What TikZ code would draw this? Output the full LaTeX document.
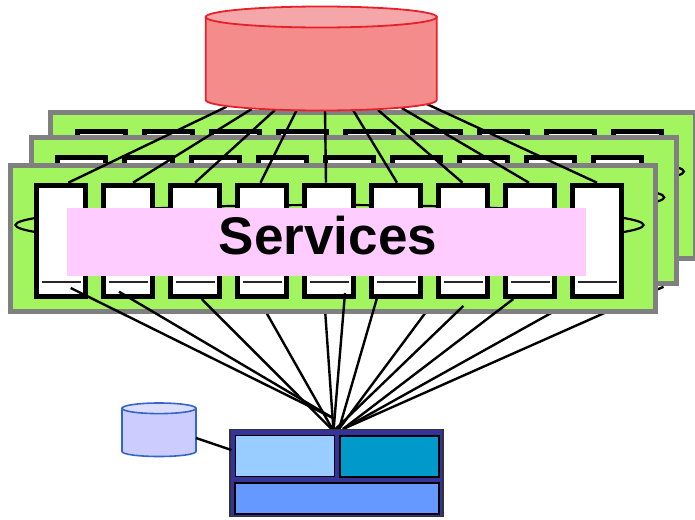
\documentclass[tikz,border=0pt]{standalone}
\usepackage{fontspec}
\setmainfont{Liberation Sans}
\definecolor{panelgreen}{HTML}{A2F55F}
\definecolor{panelgray}{HTML}{808080}
\definecolor{pinkband}{HTML}{FFCCFF}
\definecolor{dbred}{HTML}{F48C8C}
\definecolor{dbredtop}{HTML}{F5A6A9}
\definecolor{dbredline}{HTML}{E8202A}
\definecolor{dbblue}{HTML}{CCCCFF}
\definecolor{dbbluetop}{HTML}{DDDDFF}
\definecolor{dbblueline}{HTML}{3366CC}
\definecolor{appouter}{HTML}{333399}
\definecolor{appa}{HTML}{99CCFF}
\definecolor{appb}{HTML}{0099CC}
\definecolor{appc}{HTML}{6699FF}
\tikzset{
  panelbox/.style={draw=panelgray,fill=panelgreen,line width=5pt,minimum width=645pt,minimum height=146pt,inner sep=0pt},
  slotbox/.style={draw=black,fill=white,line width=5pt,minimum width=48.5pt,minimum height=111.6pt,inner sep=0pt},
  slotline/.style={line width=2pt,draw=black!85},
  loopline/.style={line width=2.2pt,draw=black},
  conn/.style={line width=2.4pt,draw=black},
  apppart/.style={draw=black,inner sep=0pt,anchor=north west},
}
\newcommand{\svcpanel}[1]{%
  \node[panelbox] (#1p) at (333,238.5) {};
  \draw[loopline] (329.5,225) ellipse [x radius=314, y radius=20];
  \foreach \i in {1,...,9} {
    \node[slotbox] (#1\i) at ({61+67*(\i-1)},241) {};
    \draw[slotline] ([xshift=-18.8pt]#1\i.center |- 0,282.3) -- ([xshift=20.2pt]#1\i.center |- 0,282.3);
  }%
}
\begin{document}
\begin{tikzpicture}[x=1pt,y=-1pt]
\useasboundingbox (0,0) rectangle (695,519);
% placeholder nodes for the two stores and the application block
\node[minimum width=231pt,minimum height=93pt,inner sep=0pt,outer sep=0pt] (db) at (321.2,63.5) {};
\node[minimum width=74pt,minimum height=43pt,inner sep=0pt,outer sep=0pt] (smalldb) at (159,430) {};
% service panels
\begin{scope}[shift={(40.4,-53.5)}]\svcpanel{a}\end{scope}
\begin{scope}[shift={(20.7,-27.7)}]\svcpanel{b}\end{scope}
% free ends of the lower connectors
\coordinate (apexL) at (332,417.5);
\coordinate (apexM) at (333.5,431);
\coordinate (apexR) at (343,429);
\coordinate (apexQ) at (339,429);
\coordinate (e4) at (266,312);
\coordinate (e5) at (325,309);
\coordinate (e8) at (426,312);
\coordinate (e11) at (553,312);
\coordinate (e12) at (663.5,286.8);
% connectors running behind the front panel
\draw[conn] (e4) -- (apexM);
\draw[conn] (e5) -- (apexM);
\draw[conn] (e8) -- (apexQ);
\draw[conn] (e11) -- (apexR);
\draw[conn] (e12) -- (apexR);
% front panel
\svcpanel{f}
% upper connectors
\foreach \i/\dx/\tx/\ty in {1/7.3/-94.5/3.3, 2/5/-69.5/1, 3/0/-46.2/0, 4/-1.5/-24.5/0, 5/-3/3.8/0, 6/1/31.8/0, 7/-0.5/56.8/0, 8/-1/80.5/2, 9/0/105.5/6}
  \draw[conn] ([xshift=\dx pt]f\i.north) -- ([xshift=\tx pt,yshift=\ty pt]db.south);
% band and title
\node[fill=pinkband,minimum width=519pt,minimum height=68pt,inner sep=0pt,outer sep=0pt] (band) at (326.5,241.7) {};
\node[inner sep=0pt] (title) at (328,236) {\fontsize{53}{53}\selectfont\bfseries Services};
% connectors in front of the panel
\coordinate (s1) at (70.7,288);
\coordinate (s2) at (119,291.7);
\coordinate (s3) at (201.7,299);
\coordinate (s6) at (345,293);
\coordinate (s7) at (376.7,299);
\coordinate (s9) at (463.3,306);
\coordinate (s10) at (513.3,299);
\draw[conn] (s1) -- (apexL);
\draw[conn] (s2) -- (apexL);
\draw[conn] (s3) -- (apexM);
\draw[conn] (s6) -- (apexM);
\draw[conn] (s7) -- (apexQ);
\draw[conn] (s9) -- (apexM);
\draw[conn] (s10) -- (apexR);
% large store
\draw[draw=dbredline,fill=dbred,line width=1.8pt] (205.7,17) -- (205.7,100) arc[start angle=180,end angle=360,x radius=115.5,y radius=-10.5] -- (436.7,17) -- cycle;
\draw[draw=dbredline,fill=dbredtop,line width=1.8pt] (321.2,17) ellipse [x radius=115.5,y radius=10.5];
% small store
\draw[draw=dbblueline,fill=dbblue,line width=1.6pt] (122,408.3) -- (122,451.5) arc[start angle=180,end angle=360,x radius=37,y radius=-5] -- (196,408.3) -- cycle;
\draw[draw=dbblueline,fill=dbbluetop,line width=1.6pt] (159,408.3) ellipse [x radius=37,y radius=5.3];
% application block
\node[draw=black!80,fill=appouter,line width=1.2pt,minimum width=213pt,minimum height=87.5pt,inner sep=0pt] (app) at (336.5,473) {};
\node[apppart,fill=appa,line width=1pt,minimum width=99pt,minimum height=41pt] (ua) at (235,435) {};
\node[apppart,fill=appb,line width=2pt,minimum width=99pt,minimum height=41pt] (ub) at (339.3,435) {};
\node[apppart,fill=appc,line width=2pt,minimum width=204pt,minimum height=31pt] (uc) at (234.3,481.7) {};
\draw[conn] ([yshift=-8pt]smalldb.east) -- ([yshift=23pt,xshift=2pt]app.west);
\end{tikzpicture}
\end{document}
